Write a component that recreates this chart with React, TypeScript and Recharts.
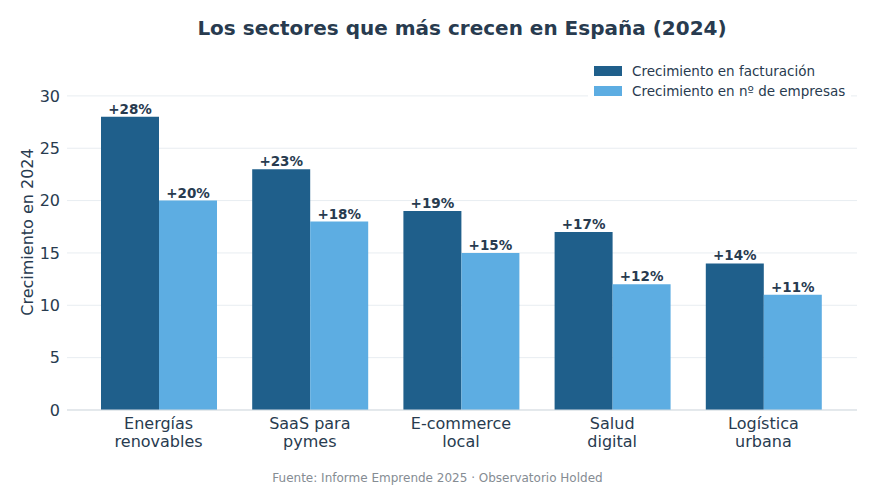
import React from 'react';
import { BarChart, Bar, XAxis, YAxis, CartesianGrid, LabelList } from 'recharts';

const categories = ['Energías\nrenovables', 'SaaS para\npymes', 'E-commerce\nlocal', 'Salud\ndigital', 'Logística\nurbana'];
const facturacion = [28, 23, 19, 17, 14];
const empresas = [20, 18, 15, 12, 11];
const yTicks = [0, 5, 10, 15, 20, 25, 30];

const data = categories.map((name, i) => ({ name, facturacion: facturacion[i], empresas: empresas[i] }));

const FONT = '"DejaVu Sans", sans-serif';
const TEXT = '#283b4f';
const DARK = '#1f5f8b';
const LIGHT = '#5dade2';

const CategoryTick = (props: any) => {
  const { x, y, payload } = props;
  const lines = String(payload.value).split('\n');
  return (
    <g transform={`translate(${x},${y})`}>
      {lines.map((l: string, i: number) => (
        <text key={i} x={0} y={11 + i * 18} textAnchor="middle" fill={TEXT} fontSize={16} fontFamily={FONT}>
          {l}
        </text>
      ))}
    </g>
  );
};

const valueLabel = (v: any) => `+${v}%`;

export default function App() {
  return (
    <div style={{ position: 'relative', width: 875, height: 486, background: '#fff', fontFamily: FONT }}>
      <style>{`body{margin:0}`}</style>
      <div style={{ position: 'absolute', left: 67, width: 790, top: 16, textAlign: 'center', fontSize: 20, fontWeight: 'bold', color: TEXT }}>
        Los sectores que más crecen en España (2024)
      </div>
      <BarChart
        width={875}
        height={486}
        data={data}
        margin={{ top: 54, right: 18, bottom: 0, left: 0 }}
        barGap={0}
        barSize={58}
      >
        <CartesianGrid vertical={false} stroke="#e8edf1" strokeWidth={1} horizontalValues={yTicks} />
        <XAxis
          dataKey="name"
          tick={<CategoryTick />}
          tickLine={false}
          axisLine={{ stroke: '#d5dbe0' }}
          height={76}
          interval={0}
          padding={{ left: 16, right: 18 }}
        />
        <YAxis
          domain={[0, 34]}
          ticks={yTicks}
          width={67}
          axisLine={false}
          tickLine={false}
          tickSize={0}
          tickMargin={7}
          tick={{ fill: TEXT, fontSize: 16, fontFamily: FONT }}
          label={{ value: 'Crecimiento en 2024', angle: -90, position: 'insideLeft', offset: 27, style: { fill: TEXT, fontSize: 16, fontFamily: FONT, textAnchor: 'middle' } }}
        />
        <Bar dataKey="facturacion" fill={DARK} isAnimationActive={false}>
          <LabelList dataKey="facturacion" position="top" offset={3} formatter={valueLabel} fill={TEXT} fontSize={13.5} fontWeight="bold" fontFamily={FONT} />
        </Bar>
        <Bar dataKey="empresas" fill={LIGHT} isAnimationActive={false}>
          <LabelList dataKey="empresas" position="top" offset={3} formatter={valueLabel} fill={TEXT} fontSize={13.5} fontWeight="bold" fontFamily={FONT} />
        </Bar>
      </BarChart>
      <div style={{ position: 'absolute', left: 588, top: 61, padding: '0 6px', background: '#fff', fontSize: 13.5, color: TEXT, lineHeight: '20px' }}>
        {[
          ['Crecimiento en facturación', DARK],
          ['Crecimiento en nº de empresas', LIGHT],
        ].map(([t, c]) => (
          <div key={t} style={{ display: 'flex', alignItems: 'center' }}>
            <span style={{ display: 'inline-block', width: 28, height: 10, background: c, marginRight: 10 }} />
            {t}
          </div>
        ))}
      </div>
      <div style={{ position: 'absolute', left: 0, width: 875, top: 471, textAlign: 'center', fontSize: 12, color: '#858c93' }}>
        Fuente: Informe Emprende 2025 · Observatorio Holded
      </div>
    </div>
  );
}
